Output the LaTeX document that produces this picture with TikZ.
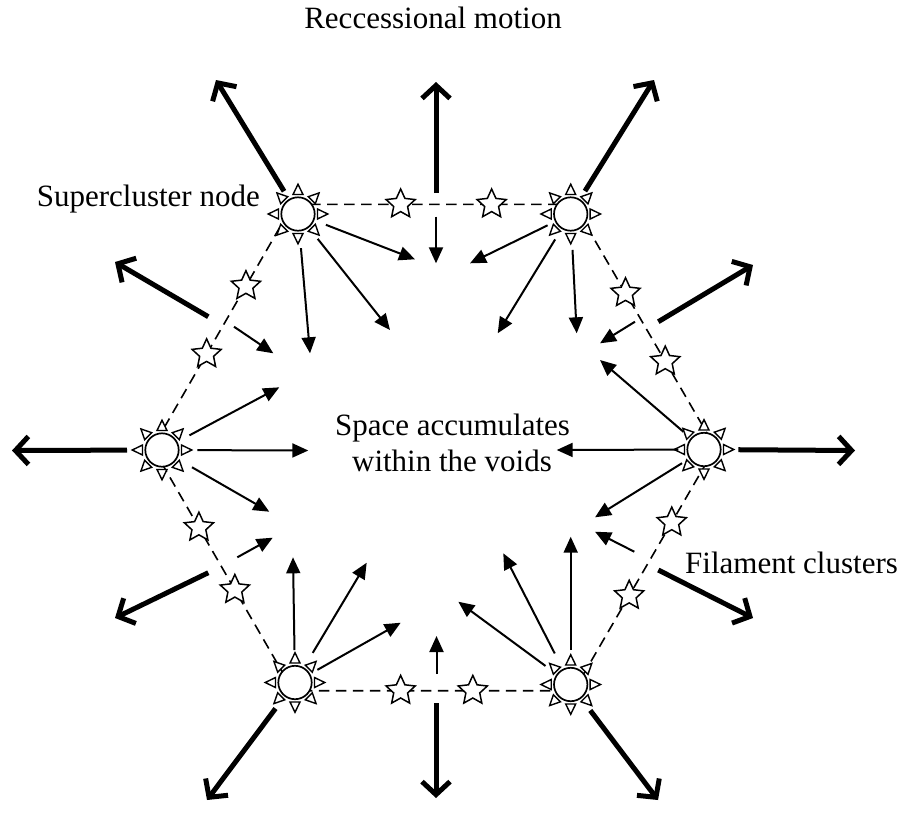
\documentclass[tikz,border=0pt]{standalone}
\usepackage{fontspec}
\setmainfont{Liberation Serif}
\usetikzlibrary{arrows.meta,calc}
\begin{document}
\begin{tikzpicture}[x=1pt,y=-1pt,
  cluster/.style={circle,draw,fill=white,line width=1.7pt,minimum size=33.4pt,inner sep=0pt},
  ray/.style={draw,fill=white,line width=1.4pt,line join=miter},
  filament/.pic={\draw[fill=white,line width=1.5pt,line join=miter]
     (90:15.3pt) -- (126:7.3pt) -- (162:15.3pt) -- (198:7.3pt) -- (234:15.3pt) -- (270:7.3pt)
     -- (306:15.3pt) -- (342:7.3pt) -- (18:15.3pt) -- (54:7.3pt) -- cycle;},
  web/.style={dash pattern=on 10.5pt off 6.5pt,line width=1.6pt},
  inflow/.style={line width=2pt,-{Triangle[length=16pt,width=14pt]}},
  outflow/.style={line width=5pt,-{Straight Barb[length=13pt,width=28pt]}},
  lbl/.style={font=\fontsize{31}{37}\selectfont,inner sep=0pt}
]
\useasboundingbox (0,0) rectangle (909,812);

% dashed web
\coordinate (dtl) at (293.1,204.3);
\coordinate (dtr) at (573.9,204.3);
\coordinate (dr)  at (715.3,447.5);
\coordinate (dbr) at (573.9,690.7);
\coordinate (dbl) at (293.1,690.7);
\coordinate (dl)  at (152.7,447.5);
\draw[web] (dtl) -- (dtr) -- (dr) -- (dbr) -- (dbl) -- (dl) -- cycle;

% supercluster nodes
\node[cluster] (tl) at (298,214) {};
\node[cluster] (tr) at (570.7,214) {};
\node[cluster] (l)  at (162,450) {};
\node[cluster] (r)  at (704,449.5) {};
\node[cluster] (bl) at (295,682.5) {};
\node[cluster] (br) at (570.7,684.5) {};
\foreach \n in {tl,tr,l,r,bl,br}{
  \foreach \a in {0,45,...,315}{
    \draw[ray] ([shift={(\a:29.8pt)}]\n.center) -- ([shift={(\a+14.4:20.1pt)}]\n.center) -- ([shift={(\a-14.4:20.1pt)}]\n.center) -- cycle;
  }
}

% filament stars
\coordinate (s1)  at ($(dtl)!0.383!(dtr)$);
\coordinate (s2)  at ($(dtl)!0.707!(dtr)$);
\coordinate (s3)  at ($(dbl)!0.383!(dbr)$);
\coordinate (s4)  at ($(dbl)!0.640!(dbr)$);
\coordinate (s5)  at ($(dtl)!0.336!(dl)$);
\coordinate (s6)  at ($(dtl)!0.616!(dl)$);
\coordinate (s7)  at ($(dtr)!0.365!(dr)$);
\coordinate (s8)  at ($(dtr)!0.646!(dr)$);
\coordinate (s9)  at ($(dl)!0.329!(dbl)$);
\coordinate (s10) at ($(dl)!0.585!(dbl)$);
\coordinate (s11) at ($(dr)!0.308!(dbr)$);
\coordinate (s12) at ($(dr)!0.609!(dbr)$);
\foreach \s in {s1,s2,s3,s4,s5,s6,s7,s8,s9,s10,s11,s12}{
  \pic at (\s) {filament};
}

% inflow tips
\coordinate (tla) at (415,259.3);
\coordinate (tlb) at (390,330);
\coordinate (tlc) at (310,353.3);
\coordinate (tra) at (470,263.3);
\coordinate (trb) at (497.7,333.3);
\coordinate (trc) at (576.7,333.3);
\coordinate (bla) at (293,557.3);
\coordinate (blb) at (366.7,562.7);
\coordinate (blc) at (400.7,622.7);
\coordinate (bra) at (570.7,536.7);
\coordinate (brb) at (503.3,553.3);
\coordinate (brc) at (458.3,601.7);
\coordinate (la) at (279.3,387.3);
\coordinate (lb) at (308.3,450.5);
\coordinate (lc) at (269.3,511.7);
\coordinate (ra) at (600,360);
\coordinate (rb) at (556.7,450);
\coordinate (rc) at (595,517.3);

\draw[inflow,shorten <=29.9pt] (tl.center) -- (tla);
\draw[inflow,shorten <=31.7pt] (tl.center) -- (tlb);
\draw[inflow,shorten <=34.3pt] (tl.center) -- (tlc);
\draw[inflow,shorten <=25.7pt] (tr.center) -- (tra);
\draw[inflow,shorten <=29.8pt] (tr.center) -- (trb);
\draw[inflow,shorten <=36pt] (tr.center) -- (trc);
\draw[inflow,shorten <=32.5pt] (bl.center) -- (bla);
\draw[inflow,shorten <=34.5pt] (bl.center) -- (blb);
\draw[inflow,shorten <=25.7pt] (bl.center) -- (blc);
\draw[inflow,shorten <=34.5pt] (br.center) -- (bra);
\draw[inflow,shorten <=34.9pt] (br.center) -- (brb);
\draw[inflow,shorten <=31.3pt] (br.center) -- (brc);
\draw[inflow,shorten <=31.1pt] (l.center) -- (la);
\draw[inflow,shorten <=35.3pt] (l.center) -- (lb);
\draw[inflow,shorten <=34.6pt] (l.center) -- (lc);
\draw[inflow,shorten <=27.2pt] (r.center) -- (ra);
\draw[inflow,shorten <=25.7pt] (r.center) -- (rb);
\draw[inflow,shorten <=25.9pt] (r.center) -- (rc);

% mid-edge arrows
\coordinate (tmi0) at (436,216.7);   \coordinate (tmi1) at (436,263.3);
\coordinate (tmo0) at (436,193);     \coordinate (tmo1) at (436,82);
\coordinate (bmi0) at (436.5,674);   \coordinate (bmi1) at (436.5,636);
\coordinate (bmo0) at (436,703);     \coordinate (bmo1) at (436,798);
\coordinate (lui0) at (234,326.7);   \coordinate (lui1) at (273.3,353.3);
\coordinate (luo0) at (208.3,316.7); \coordinate (luo1) at (115,262);
\coordinate (rui0) at (635,321.7);   \coordinate (rui1) at (600,343.3);
\coordinate (ruo0) at (658.3,321.7); \coordinate (ruo1) at (753,265);
\coordinate (lli0) at (237.3,557.3); \coordinate (lli1) at (272.7,537.7);
\coordinate (llo0) at (208.3,572.7); \coordinate (llo1) at (115,618);
\coordinate (rli0) at (634.3,551.7); \coordinate (rli1) at (595,531.7);
\coordinate (rlo0) at (658.3,570);   \coordinate (rlo1) at (753,618);

\draw[inflow] (tmi0) -- (tmi1);
\draw[inflow] (bmi0) -- (bmi1);
\draw[inflow] (lui0) -- (lui1);
\draw[inflow] (rui0) -- (rui1);
\draw[inflow] (lli0) -- (lli1);
\draw[inflow] (rli0) -- (rli1);
\draw[outflow] (tmo0) -- (tmo1);
\draw[outflow] (bmo0) -- (bmo1);
\draw[outflow] (luo0) -- (luo1);
\draw[outflow] (ruo0) -- (ruo1);
\draw[outflow] (llo0) -- (llo1);
\draw[outflow] (rlo0) -- (rlo1);

% recession arrows from nodes
\coordinate (otl) at (216,80);
\coordinate (otr) at (654,80);
\coordinate (ol)  at (12,450.5);
\coordinate (or)  at (855,450.5);
\coordinate (obl) at (207,800);
\coordinate (obr) at (658,800);
\draw[outflow,shorten <=26.7pt] (tl.center) -- (otl);
\draw[outflow,shorten <=27pt]   (tr.center) -- (otr);
\draw[outflow,shorten <=35pt]   (l.center) -- (ol);
\draw[outflow,shorten <=34.3pt] (r.center) -- (or);
\draw[outflow,shorten <=32.5pt] (bl.center) -- (obl);
\draw[outflow,shorten <=32.5pt] (br.center) -- (obr);

% labels
\node[lbl,anchor=base] (title) at (433,28) {Reccessional motion};
\node[lbl,anchor=base east] (scn) at (260,206) {Supercluster node};
\node[lbl,anchor=base west] (fil) at (685,573) {Filament clusters};
\node[lbl,anchor=base] (v1) at (452.5,435) {Space accumulates};
\node[lbl,anchor=base] (v2) at (452,471.7) {within the voids};
\end{tikzpicture}
\end{document}
